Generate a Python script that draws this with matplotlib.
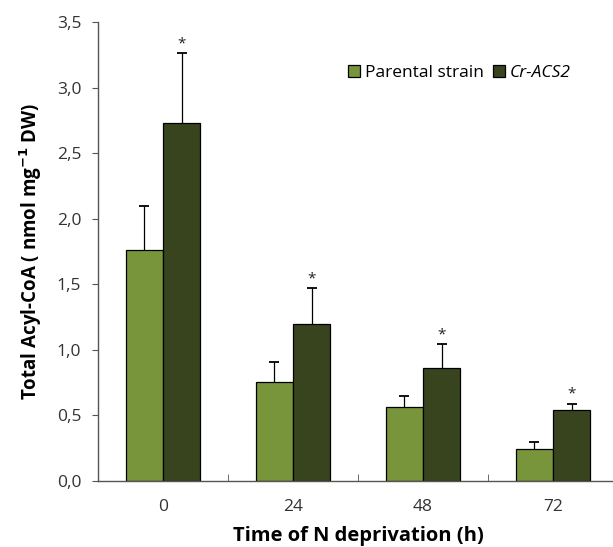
import matplotlib.pyplot as plt
import numpy as np

plt.rcParams['font.family'] = ['Open Sans', 'DejaVu Sans']

hours = ['0', '24', '48', '72']
parental = [1.76, 0.755, 0.565, 0.245]
parental_err = [0.34, 0.155, 0.085, 0.055]
acs2 = [2.73, 1.20, 0.865, 0.54]
acs2_err = [0.53, 0.27, 0.18, 0.05]
labels = ['Parental strain', 'Cr-ACS2']

fig = plt.figure(figsize=(6.13, 5.47), dpi=100)
ax = fig.add_axes([98 / 613, 1 - 481 / 547, (618 - 98) / 613, 459 / 547])

x = np.arange(len(hours))
w = 0.285
ax.bar(x - w / 2, parental, w, color='#78953c', edgecolor='black', linewidth=0.9,
       label=labels[0], zorder=2)
ax.bar(x + w / 2, acs2, w, color='#37441d', edgecolor='black', linewidth=0.9,
       label=labels[1], zorder=2)

# upper-only error bars
for xs, vals, errs in [(x - w / 2, parental, parental_err), (x + w / 2, acs2, acs2_err)]:
    tops = np.array(vals) + np.array(errs)
    ax.vlines(xs, vals, tops, color='black', linewidth=0.9, zorder=1)
    ax.plot(xs, tops, linestyle='none', marker='_', markersize=7, markeredgewidth=1.3,
            color='black', zorder=1)

# significance stars
for xi, v, e in zip(x + w / 2, acs2, acs2_err):
    ax.text(xi, v + e + 0.015, '*', ha='center', va='bottom', fontsize=11, color='#222222')

ax.set_xlim(-0.5, 3.5)
ax.set_ylim(0, 3.5)
ax.set_yticks(np.arange(0, 3.51, 0.5))
ax.set_yticklabels([f'{v:.1f}'.replace('.', ',') for v in np.arange(0, 3.51, 0.5)])
ax.set_xticks(x)
ax.set_xticklabels(hours)
ax.set_xticks([0.5, 1.5, 2.5], minor=True)
ax.tick_params(axis='x', which='major', length=0, pad=13, labelsize=12.5, labelcolor='#333333')
ax.tick_params(axis='x', which='minor', direction='in', length=5, color='#555555')
ax.tick_params(axis='y', direction='out', length=4, pad=8, labelsize=12.5, labelcolor='#333333',
               color='#555555')

for s in ['top', 'right']:
    ax.spines[s].set_visible(False)
for s in ['left', 'bottom']:
    ax.spines[s].set_color('#555555')
    ax.spines[s].set_linewidth(1.0)

ax.set_ylabel('Total Acyl-CoA ( nmol mg$^{\\mathbf{-1}}$ DW)', fontsize=13.5, fontweight='bold',
              labelpad=9)
ax.set_xlabel('Time of N deprivation (h)', fontsize=14.5, fontweight='bold', labelpad=8)

leg = ax.legend(loc='upper left', bbox_to_anchor=(0.45, 0.94), ncol=2, frameon=False,
                fontsize=12.5, handlelength=0.7, handleheight=0.7, handletextpad=0.3,
                columnspacing=0.5)
leg.get_texts()[1].set_fontstyle('italic')

plt.savefig('out.png', dpi=100)
